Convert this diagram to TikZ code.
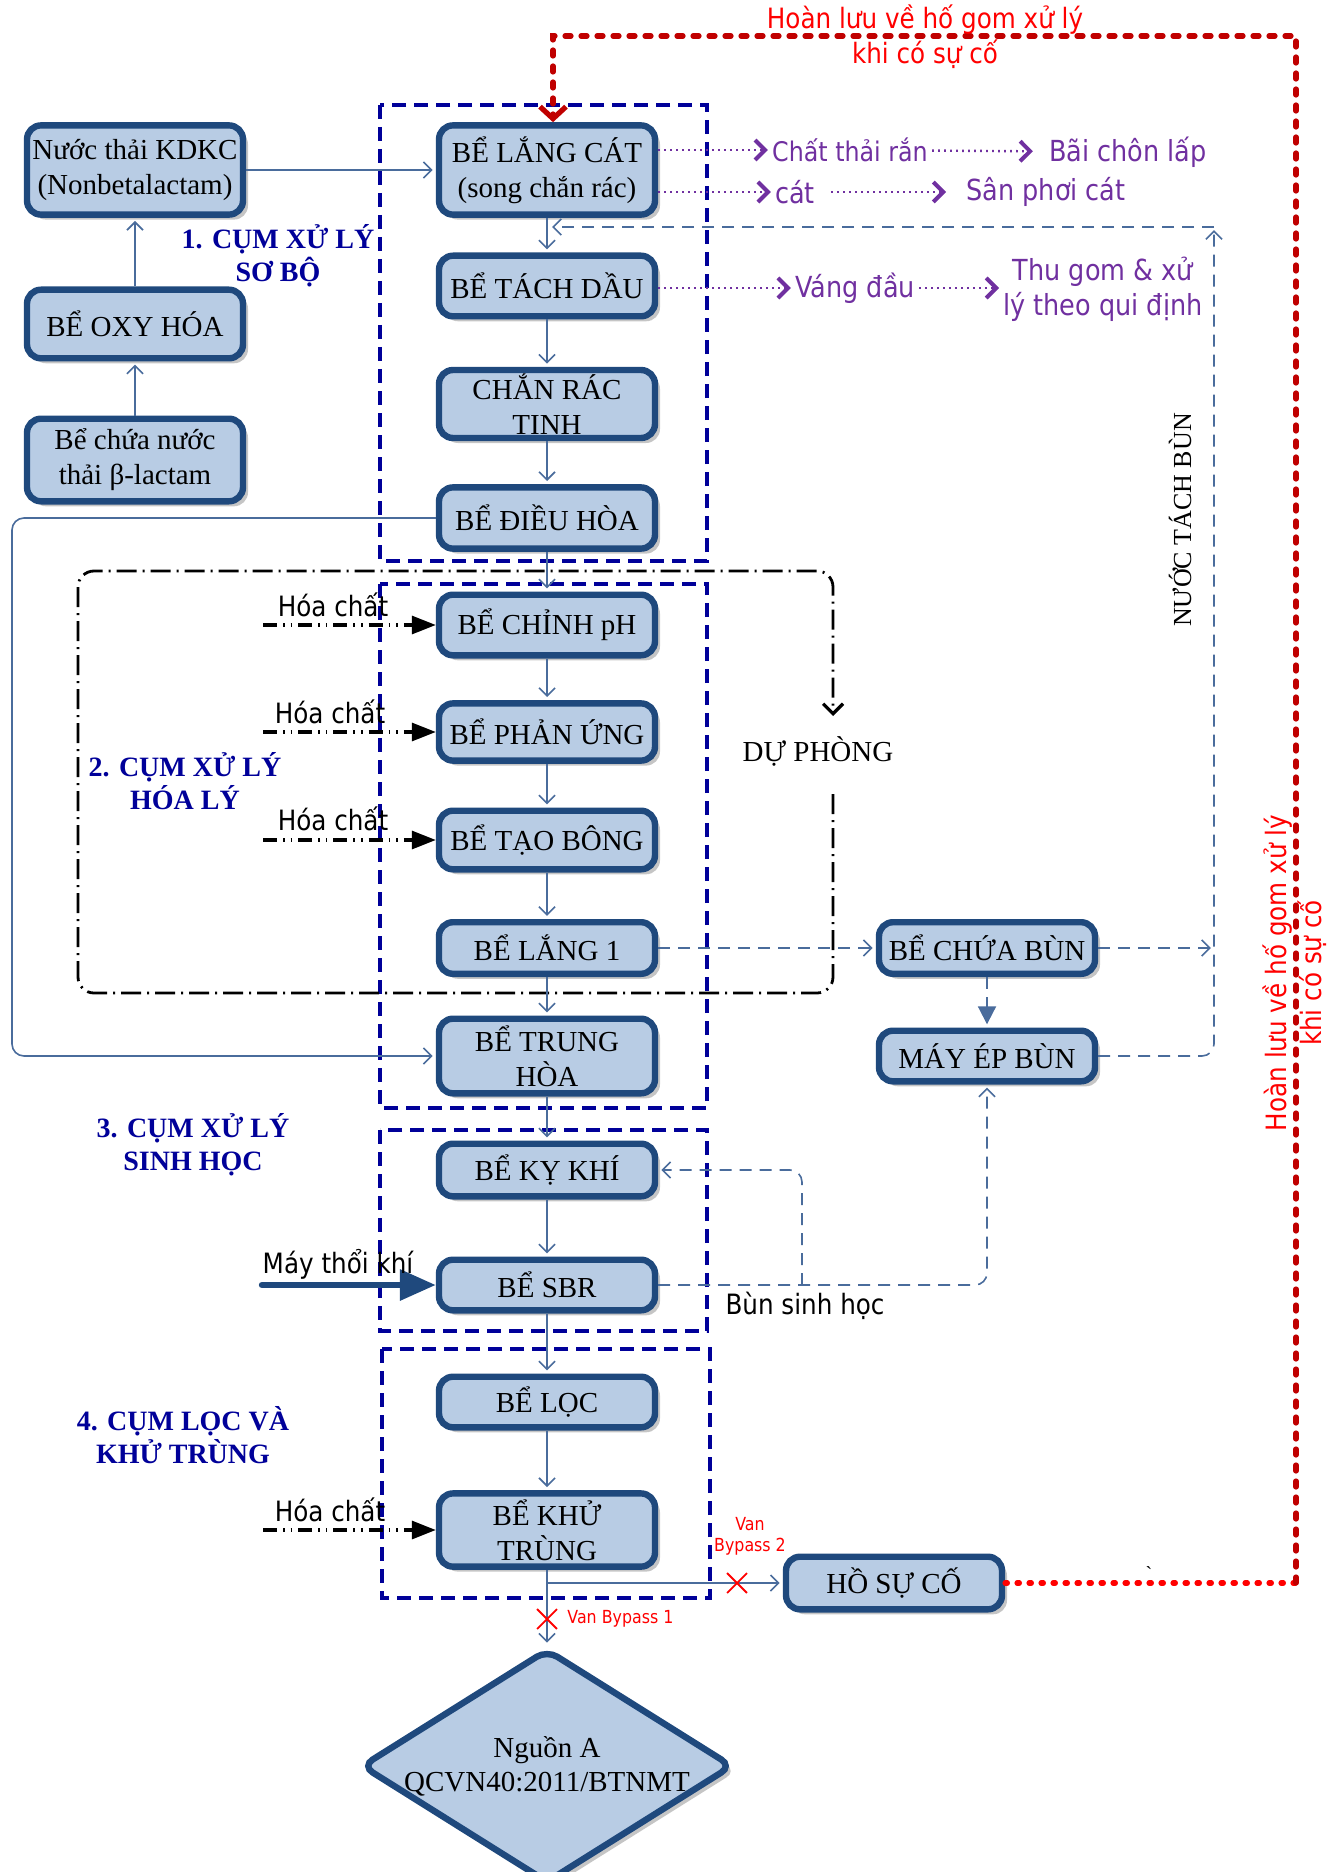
\documentclass[tikz,border=0pt]{standalone}
\usepackage{fontspec}
\setmainfont{Liberation Serif}
\newfontfamily\labelsans{DejaVu Sans}[FakeStretch=0.88]
\usetikzlibrary{arrows.meta,shapes.geometric,shapes.misc,shadows}

\definecolor{tankfill}{HTML}{B8CCE4}
\definecolor{tankline}{HTML}{1F497D}
\definecolor{pipe}{HTML}{4A6C9C}
\definecolor{groupblue}{HTML}{000099}
\definecolor{wastepurple}{HTML}{7030A0}
\definecolor{alarm}{HTML}{FF0000}
\definecolor{alarmdark}{HTML}{C00000}

\tikzset{
  tank/.style={draw=tankline, line width=3.2pt, fill=tankfill, rounded corners=7pt,
    minimum width=108pt, inner sep=1pt, align=center,
    font=\fontsize{14.5}{17.5}\selectfont,
    drop shadow={shadow xshift=2.5pt, shadow yshift=-2.5pt, fill=black!45, opacity=.5}},
  flow/.style={draw=pipe, line width=.8pt, shorten >=1.6pt,
    -{Straight Barb[length=4pt,width=8pt]}},
  sludge/.style={flow, dash pattern=on 6pt off 4pt},
  groupbox/.style={draw=groupblue, line width=2.2pt, dash pattern=on 7pt off 4pt},
  standby/.style={line width=1.4pt, dash pattern=on 10pt off 3pt on 1pt off 3pt,
    rounded corners=8pt},
  dose/.style={line width=1.6pt, dash pattern=on 7pt off 3pt on .8pt off 3pt on .8pt off 3pt,
    -{Triangle[length=12pt,width=9pt]}},
  blower/.style={draw=tankline, line width=3.2pt, line cap=round,
    -{Triangle[length=18pt,width=15pt]}},
  waste/.style={draw=wastepurple, line width=1.2pt, dash pattern=on .8pt off 2.2pt,
    -{Straight Barb[length=5pt,width=10pt,line width=2pt]}},
  spillline/.style={draw=alarm, line width=2.8pt, line cap=round, dash pattern=on 1pt off 5pt},
  spillreturn/.style={draw=alarmdark, line width=2.6pt, line cap=round,
    dash pattern=on 3pt off 5pt},
  valve/.style={draw=alarm, cross out, line width=.9pt, minimum size=9pt, inner sep=0pt},
  grouplbl/.style={text=groupblue, align=center, font=\bfseries\fontsize{14}{16.5}\selectfont},
  note/.style={inner sep=1pt, font=\labelsans\fontsize{14}{16}\selectfont},
  wastetext/.style={text=wastepurple, inner sep=2pt, align=center,
    font=\labelsans\fontsize{14.5}{17.5}\selectfont},
  alarmtext/.style={text=alarm, inner sep=1pt, align=center,
    font=\labelsans\fontsize{14}{17.5}\selectfont},
  valvetext/.style={text=alarm, inner sep=2pt, align=center,
    font=\labelsans\fontsize{9}{10.5}\selectfont},
  serifnote/.style={inner sep=1pt, font=\fontsize{14.5}{17}\selectfont}
}

\begin{document}
\begin{tikzpicture}[x=0.5pt,y=-0.5pt]
  \useasboundingbox (0,0) rectangle (1342,1872);

  % khung cac cum
  \draw[groupbox] (380,105) rectangle (707,561);
  \draw[groupbox] (380,584) rectangle (707,1108);
  \draw[groupbox] (380,1130) rectangle (707,1331);
  \draw[groupbox] (382,1349) rectangle (710,1598);
  \draw[standby, -{Straight Barb[length=5pt,width=10pt,line width=1.6pt]}]
    (833,794) -- (833,993) -- (78,993) -- (78,571) -- (833,571) -- (833,716);

  % cac be
  \node[tank, minimum height=44.6pt] (kdkc) at (135,170) {Nước thải KDKC\\(Nonbetalactam)};
  \node[tank, minimum height=34.3pt] (oxy) at (135,324) {BỂ OXY HÓA};
  \node[tank, minimum height=41.3pt] (blac) at (135,460) {Bể chứa nước\\thải β-lactam};
  \node[tank, minimum height=44.6pt] (langcat) at (547,170) {BỂ LẮNG CÁT\\(song chắn rác)};
  \node[tank, minimum height=30.3pt] (tachdau) at (547,286) {BỂ TÁCH DẦU};
  \node[tank, minimum height=34pt] (chanrac) at (547,404) {CHẮN RÁC\\TINH};
  \node[tank, minimum height=30.6pt] (dieuhoa) at (547,518) {BỂ ĐIỀU HÒA};
  \node[tank, minimum height=30.3pt] (chinhph) at (547,625) {BỂ CHỈNH pH};
  \node[tank, minimum height=28.6pt] (phanung) at (547,732) {BỂ PHẢN ỨNG};
  \node[tank, minimum height=29.3pt] (taobong) at (547,840) {BỂ TẠO BÔNG};
  \node[tank, minimum height=25.8pt] (lang1) at (547,948) {BỂ LẮNG 1};
  \node[tank, minimum height=37.3pt] (trunghoa) at (547,1056) {BỂ TRUNG\\HÒA};
  \node[tank, minimum height=26.3pt] (kykhi) at (547,1170) {BỂ KỴ KHÍ};
  \node[tank, minimum height=25.3pt] (sbr) at (547,1285) {BỂ SBR};
  \node[tank, minimum height=25.3pt] (loc) at (547,1402) {BỂ LỌC};
  \node[tank, minimum height=36.6pt] (khutrung) at (547,1530) {BỂ KHỬ\\TRÙNG};
  \node[tank, minimum height=25.8pt] (chuabun) at (987,948) {BỂ CHỨA BÙN};
  \node[tank, minimum height=25.3pt] (epbun) at (987,1056) {MÁY ÉP BÙN};
  \node[tank, minimum height=26.3pt] (hosuco) at (894,1583) {HỒ SỰ CỐ};
  \node[tank, diamond, rounded corners=6pt, minimum width=186pt, minimum height=117pt,
    inner sep=0pt] (nguon) at (547,1766) {};
  \node[serifnote, align=center] (nguonlbl) at (nguon) {Nguồn A\\QCVN40:2011/BTNMT};

  % duong nuoc chinh
  \draw[flow] (blac) -- (oxy);
  \draw[flow] (oxy) -- (kdkc);
  \draw[flow] (kdkc) -- (langcat);
  \draw[flow] (langcat) -- (tachdau);
  \draw[flow] (tachdau) -- (chanrac);
  \draw[flow] (chanrac) -- (dieuhoa);
  \draw[flow] (dieuhoa) -- (chinhph);
  \draw[flow] (chinhph) -- (phanung);
  \draw[flow] (phanung) -- (taobong);
  \draw[flow] (taobong) -- (lang1);
  \draw[flow] (lang1) -- (trunghoa);
  \draw[flow] (trunghoa) -- (kykhi);
  \draw[flow] (kykhi) -- (sbr);
  \draw[flow] (sbr) -- (loc);
  \draw[flow] (loc) -- (khutrung);
  \draw[flow] (khutrung) -- (nguon);
  \draw[flow] (khutrung.south) |- (hosuco.west);
  \coordinate (leftrun) at (12,518);
  \draw[flow, rounded corners=6pt] (dieuhoa.west) -- (leftrun) |- (trunghoa.west);

  % van
  \node[valve] (vb2) at (737,1583) {};
  \node[valve] (vb1) at (547,1619) {};
  \node[valvetext] (vb2lbl) at (750,1536) {Van\\Bypass 2};
  \node[valvetext, anchor=west] (vb1lbl) at (563,1619) {Van Bypass 1};

  % duong bun
  \coordinate (sepjoin) at (1214,948);
  \coordinate (septop) at (1214,227);
  \coordinate (backin) at (549,227);
  \coordinate (sbrsplit) at (802,1285);
  \draw[sludge] (lang1) -- (chuabun);
  \draw[sludge, line width=1pt, -{Triangle[length=9pt,width=9pt]}] (chuabun) -- (epbun);
  \draw[sludge] (chuabun) -- (sepjoin);
  \draw[sludge, rounded corners=6pt] (epbun) -| (septop);
  \draw[sludge] (septop) -- (backin);
  \draw[sludge, rounded corners=6pt] (sbr) -| (epbun);
  \draw[sludge, rounded corners=6pt] (sbrsplit) |- (kykhi);
  \node[note] (bunsh) at (805,1306) {Bùn sinh học};
  \node[serifnote, rotate=90, font=\fontsize{13}{15}\selectfont] (nuoctach) at (1180,520) {NƯỚC TÁCH BÙN};
  \node[serifnote] (duphong) at (818,751) {DỰ PHÒNG};

  % hoa chat, may thoi khi
  \coordinate (dose1) at (263,625);
  \coordinate (dose2) at (263,732);
  \coordinate (dose3) at (263,840);
  \coordinate (dose4) at (263,1530);
  \coordinate (air) at (262,1285);
  \draw[dose] (dose1) -- (chinhph);
  \draw[dose] (dose2) -- (phanung);
  \draw[dose] (dose3) -- (taobong);
  \draw[dose] (dose4) -- (khutrung);
  \draw[blower] (air) -- (sbr);
  \node[note] (hc1) at (333,605) {Hóa chất};
  \node[note] (hc2) at (330,712) {Hóa chất};
  \node[note] (hc3) at (333,819) {Hóa chất};
  \node[note] (hc4) at (330,1510) {Hóa chất};
  \node[note] (mtk) at (338,1264) {Máy thổi khí};

  % chat thai
  \node[wastetext, font=\labelsans\fontsize{13.5}{16}\selectfont] (ctr) at (850,150) {Chất thải rắn};
  \node[wastetext] (bcl) at (1128,152) {Bãi chôn lấp};
  \node[wastetext] (cat) at (795,192) {cát};
  \node[wastetext] (spc) at (1046,192) {Sân phơi cát};
  \node[wastetext] (vd) at (855,288) {Váng đầu};
  \node[wastetext] (tgxl) at (1103,289) {Thu gom \& xử\\lý theo qui định};
  \draw[waste] (langcat.east |- ctr) -- (ctr);
  \draw[waste, shorten >=6pt] (ctr) -- (bcl);
  \draw[waste] (langcat.east |- cat) -- (cat);
  \draw[waste, shorten <=6pt, shorten >=8pt] (cat) -- (spc);
  \draw[waste] (tachdau.east |- vd) -- (vd);
  \draw[waste] (vd.east) -- (vd.east -| tgxl.west);

  % nhan cum
  \node[grouplbl] (g1lbl) at (278,256) {1. CỤM XỬ LÝ\\SƠ BỘ};
  \node[grouplbl] (g2lbl) at (185,781) {2. CỤM XỬ LÝ\\HÓA LÝ};
  \node[grouplbl] (g3lbl) at (193,1145) {3. CỤM XỬ LÝ\\SINH HỌC};
  \node[grouplbl] (g4lbl) at (183,1435) {4. CỤM LỌC VÀ\\KHỬ TRÙNG};

  % hoan luu su co
  \coordinate (spillcorner) at (1296,1583);
  \coordinate (spilltop) at (1296,36);
  \coordinate (retdrop) at (553,36);
  \draw[spillline] (hosuco) -- (spillcorner);
  \draw[spillreturn, -{Straight Barb[length=6pt,width=13pt,line width=2.6pt]}]
    (spillcorner) -- (spilltop) -- (retdrop) -- (retdrop |- langcat.north);
  \node[alarmtext] (rettop) at (925,37) {Hoàn lưu về hố gom xử lý\\khi có sự cố};
  \node[alarmtext, rotate=90] (retside) at (1295,973) {Hoàn lưu về hố gom xử lý\\khi có sự cố};
  \node[inner sep=0pt, font=\fontsize{10}{10}\selectfont] (tick) at (1149,1574) {\textasciigrave};
\end{tikzpicture}
\end{document}
